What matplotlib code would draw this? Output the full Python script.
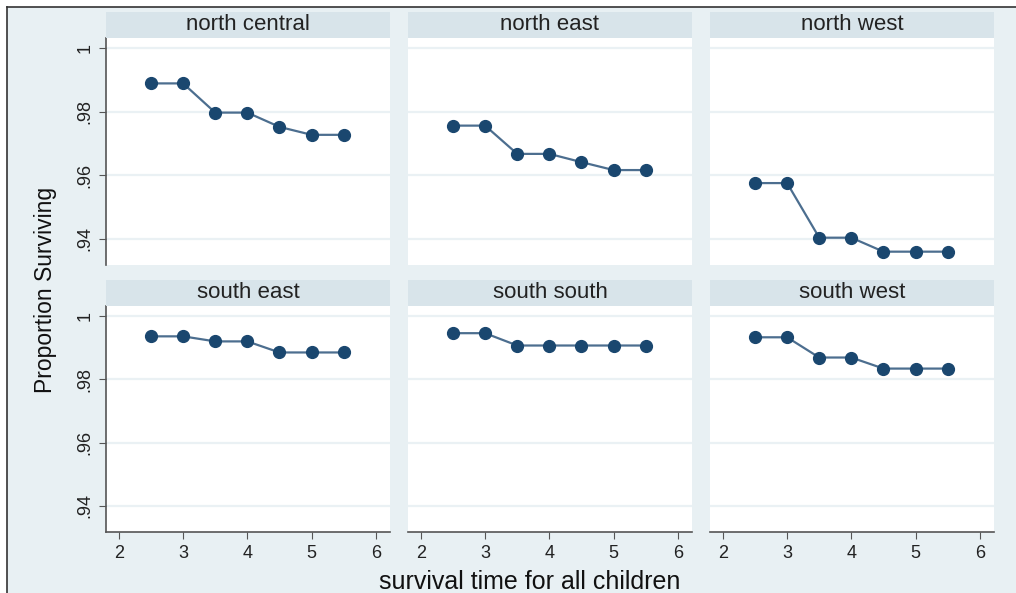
import matplotlib
matplotlib.use("Agg")
import matplotlib.pyplot as plt
from matplotlib.lines import Line2D
from matplotlib.patches import Rectangle

plt.rcParams['font.family'] = ['Liberation Sans', 'DejaVu Sans']

# survival time points (same for every region)
times = [2.5, 3, 3.5, 4, 4.5, 5, 5.5]

regions = ["north central", "north east", "north west",
           "south east", "south south", "south west"]

north_central = [0.9889, 0.9889, 0.9797, 0.9797, 0.9752, 0.9727, 0.9727]
north_east = [0.9756, 0.9756, 0.9667, 0.9667, 0.9641, 0.9616, 0.9616]
north_west = [0.9575, 0.9575, 0.9403, 0.9403, 0.9359, 0.9359, 0.9359]
south_east = [0.9936, 0.9936, 0.9920, 0.9920, 0.9885, 0.9885, 0.9885]
south_south = [0.9946, 0.9946, 0.9907, 0.9907, 0.9907, 0.9907, 0.9907]
south_west = [0.9933, 0.9933, 0.9869, 0.9869, 0.9834, 0.9834, 0.9834]

series = [north_central, north_east, north_west,
          south_east, south_south, south_west]

yticks = [0.94, 0.96, 0.98, 1.0]
ytick_labels = [".94", ".96", ".98", "1"]
xticks = [2, 3, 4, 5, 6]

W, H = 1016, 593
bg = "#e8f0f3"
strip_col = "#d8e4ea"
navy = "#1a476f"
axis_col = "#555555"

fig = plt.figure(figsize=(W / 100, H / 100), dpi=100, facecolor="white")

# light background with frame lines on top and left
fig.patches.append(Rectangle((7 / W, 0), 1 - 7 / W, 1 - 7 / H, transform=fig.transFigure,
                             facecolor=bg, edgecolor="none", zorder=-10))
fig.lines.append(Line2D([7 / W, 7 / W], [0, 1 - 7 / H], transform=fig.transFigure,
                        color="#333333", lw=1.2))
fig.lines.append(Line2D([7 / W, 1], [1 - 7 / H, 1 - 7 / H], transform=fig.transFigure,
                        color="#333333", lw=1.2))

col_left = [106, 408, 710]
col_w = 284
row_top = [38, 306]
row_h = [227, 226]
strip_h = 26

for i, (name, vals) in enumerate(zip(regions, series)):
    r, c = divmod(i, 3)
    left = col_left[c] / W
    bottom = (H - row_top[r] - row_h[r]) / H
    ax = fig.add_axes([left, bottom, col_w / W, row_h[r] / H])
    ax.set_facecolor("white")
    ax.set_xlim(1.8, 6.22)
    ax.set_ylim(0.9317, 1.0032)
    for yv in yticks:
        ax.axhline(yv, color="#eaf1f4", lw=1.6, zorder=0)
    ax.plot(times, vals, color="#4c6e8f", lw=1.6, zorder=2)
    ax.plot(times, vals, "o", color=navy, ms=8.5, zorder=3)

    for s in ax.spines.values():
        s.set_visible(False)
    ax.set_yticks(yticks)
    ax.set_xticks(xticks)
    if c == 0:
        ax.spines['left'].set_visible(True)
        ax.spines['left'].set_color(axis_col)
        ax.spines['left'].set_linewidth(1.2)
        ax.set_yticklabels(ytick_labels, rotation=90, va="center", fontsize=13,
                           color="#222222")
        ax.tick_params(axis="y", length=5, color=axis_col, pad=4)
    else:
        ax.tick_params(axis="y", length=0, labelleft=False)
    if r == 1:
        ax.spines['bottom'].set_visible(True)
        ax.spines['bottom'].set_color(axis_col)
        ax.spines['bottom'].set_linewidth(1.2)
        ax.set_xticklabels([str(x) for x in xticks], fontsize=13, color="#222222")
        ax.tick_params(axis="x", length=5, color=axis_col, pad=4)
    else:
        ax.tick_params(axis="x", length=0, labelbottom=False)

    # strip header
    sy = (H - row_top[r]) / H
    fig.patches.append(Rectangle((left, sy), col_w / W, strip_h / H, transform=fig.transFigure,
                                 facecolor=strip_col, edgecolor="none"))
    fig.text(left + col_w / W / 2, sy + strip_h / H / 2, name, ha="center", va="center",
             fontsize=16, color="#222222")

fig.text(46 / W, (H - 290) / H, "Proportion Surviving", rotation=90, ha="center",
         va="center", fontsize=16.5, color="#111111")
fig.text(530 / W, (H - 582) / H, "survival time for all children", ha="center",
         va="center", fontsize=18, color="#111111")

fig.savefig("out.png", dpi=100, facecolor="white")
